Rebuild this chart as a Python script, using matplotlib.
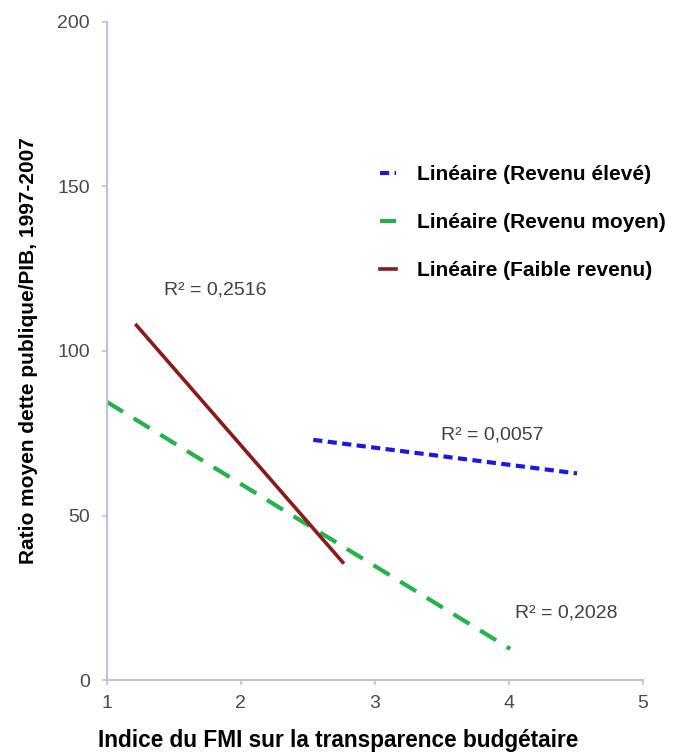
import matplotlib
matplotlib.use("Agg")
import matplotlib.pyplot as plt

plt.rcParams["font.family"] = ["Liberation Sans", "DejaVu Sans"]

# trend line endpoints (x = IMF index, y = debt/GDP ratio)
high_x = [2.54, 4.51]
high_y = [73.0, 62.8]
mid_x = [1.0, 4.01]
mid_y = [84.5, 9.5]
low_x = [1.22, 2.76]
low_y = [107.8, 35.8]

labels = ["Linéaire (Revenu élevé)", "Linéaire (Revenu moyen)", "Linéaire (Faible revenu)"]
r2_texts = ["R² = 0,2516", "R² = 0,0057", "R² = 0,2028"]
r2_pos = [(1.81, 118.5), (3.88, 74.5), (4.43, 20.5)]

fig = plt.figure(figsize=(6.73, 7.54), dpi=100)
ax = fig.add_axes([0.159, 0.098, 0.796, 0.873])

ax.plot(high_x, high_y, color="#1a1adc", lw=3, ls=(0, (2.2, 1.3)), label=labels[0])
ax.plot(mid_x, mid_y, color="#22b44a", lw=3, ls=(0, (4.5, 3.0)), label=labels[1])
ax.plot(low_x, low_y, color="#8b1a1a", lw=2.6, label=labels[2])

for txt, (tx, ty) in zip(r2_texts, r2_pos):
    ax.text(tx, ty, txt, fontsize=14, color="#404040", ha="center", va="center")

ax.set_xlim(1, 5)
ax.set_ylim(0, 200)
ax.set_xticks([1, 2, 3, 4, 5])
ax.set_yticks([0, 50, 100, 150, 200])
ax.tick_params(colors="#c0c0dc", labelcolor="#4a4a4a", labelsize=14, length=3.5, width=1.2)
ax.tick_params(axis="x", pad=7)
ax.tick_params(axis="y", pad=9)
for side in ("top", "right"):
    ax.spines[side].set_visible(False)
for side in ("left", "bottom"):
    ax.spines[side].set_color("#c0c0dc")
    ax.spines[side].set_linewidth(1.5)

ax.set_xlabel("Indice du FMI sur la transparence budgétaire", fontsize=16.3,
              fontweight="bold", va="center")
ax.xaxis.set_label_coords(0.431, -0.091)
ax.set_ylabel("Ratio moyen dette publique/PIB, 1997-2007", fontsize=15,
              fontweight="bold", labelpad=14)

ax.legend(loc="upper left", bbox_to_anchor=(0.509, 0.782), frameon=False,
          handlelength=0.8, handletextpad=1.0, labelspacing=1.39,
          borderpad=0, borderaxespad=0,
          prop={"weight": "bold", "size": 15})

fig.savefig("out.png", dpi=100)
